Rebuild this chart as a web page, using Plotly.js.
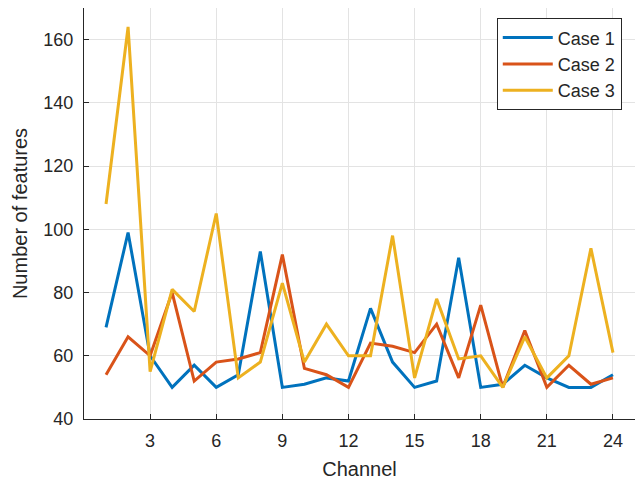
<!DOCTYPE html>
<html>
<head>
<meta charset="utf-8">
<script src="https://cdn.plot.ly/plotly-3.0.1.min.js"></script>
<style>html,body{margin:0;padding:0;background:#fff;}#chart{width:638px;height:482px;}</style>
</head>
<body>
<div id="chart"></div>
<script>
var channels = [1,2,3,4,5,6,7,8,9,10,11,12,13,14,15,16,17,18,19,20,21,22,23,24];
var case1 = [69,99,60,50,57,50,54,93,50,51,53,52,75,58,50,52,91,50,51,57,53,50,50,54];
var case2 = [54,66,60,80,52,58,59,61,92,56,54,50,64,63,61,70,53,76,50,68,50,57,51,53];
var case3 = [108,164,55,81,74,105,53,58,83,58,70,60,60,98,53,78,59,60,50,66,53,60,94,61];
var seriesNames = ["Case 1","Case 2","Case 3"];
var xTicks = [3,6,9,12,15,18,21,24];
var yTicks = [40,60,80,100,120,140,160];
var colors = ["#0072BD","#D95319","#EDB120"];

var data = [case1, case2, case3].map(function(v, i){
  return {x: channels, y: v, type: "scatter", mode: "lines", name: seriesNames[i],
          line: {color: colors[i], width: 3}};
});

var FONT = "Liberation Sans, Arial, Helvetica, sans-serif";
var axisCommon = {
  showline: true, linecolor: "#262626", linewidth: 1,
  showgrid: true, gridcolor: "#e3e3e3", gridwidth: 1,
  ticks: "inside", ticklen: 5, tickcolor: "#262626",
  tickfont: {family: FONT, size: 18, color: "#262626"},
  zeroline: false, mirror: false
};

var layout = {
  width: 638, height: 482,
  margin: {l: 84, r: 3, t: 8, b: 63},
  paper_bgcolor: "#fff", plot_bgcolor: "#fff",
  font: {family: FONT, size: 18, color: "#262626"},
  xaxis: Object.assign({}, axisCommon, {
    range: [0, 25], tickmode: "array", tickvals: xTicks, ticktext: xTicks.map(String),
    ticklabelstandoff: 5,
    title: {text: "Channel", font: {family: FONT, size: 20, color: "#262626"}, standoff: 12}
  }),
  yaxis: Object.assign({}, axisCommon, {
    range: [40, 170], tickmode: "array", tickvals: yTicks, ticktext: yTicks.map(String),
    ticklabelstandoff: 6,
    title: {text: "Number of features", font: {family: FONT, size: 20, color: "#262626"}, standoff: 10}
  }),
  showlegend: true,
  legend: {x: 0.976, xanchor: "right", y: 0.975, yanchor: "top",
           bgcolor: "#fff", bordercolor: "#262626", borderwidth: 1, itemwidth: 50,
           font: {family: FONT, size: 18, color: "#262626"}, tracegroupgap: 0}
};

Plotly.newPlot("chart", data, layout, {displayModeBar: false, staticPlot: true});
</script>
</body>
</html>
